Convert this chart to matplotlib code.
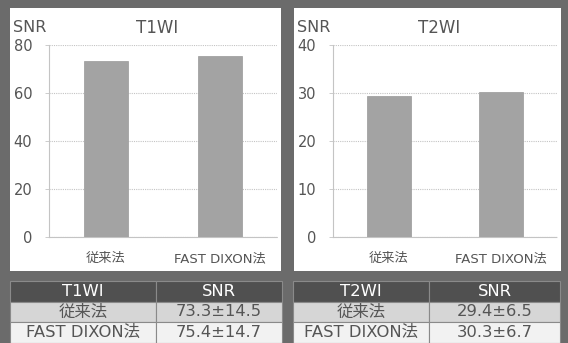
#!/usr/bin/env python3
"""
SNR comparison: conventional vs FAST DIXON (T1WI / T2WI)
"""

import matplotlib
matplotlib.use('Agg')
import matplotlib.pyplot as plt
from matplotlib.patches import Rectangle

plt.rcParams['font.family'] = ['DejaVu Sans', 'Noto Sans CJK JP']

# Data
methods = ['従来法', 'FAST DIXON法']
t1_snr = [73.3, 75.4]
t1_sd = [14.5, 14.7]
t2_snr = [29.4, 30.3]
t2_sd = [6.5, 6.7]
t1_ticks = [0, 20, 40, 60, 80]
t2_ticks = [0, 10, 20, 30, 40]

W, H = 568, 343
BG = '#6b6b6b'
TEXT = '#555555'
BAR = '#a3a3a3'
GRID = '#c4c4c4'


def fig_rect(x0, y0, x1, y1):
    # pixel box (top-left origin) -> figure fraction [left, bottom, width, height]
    return [x0 / W, (H - y1) / H, (x1 - x0) / W, (y1 - y0) / H]


def draw_chart(fig, panel, axbox, title, values, ticks):
    px0, py0, px1, py1 = panel
    fig.patches.append(Rectangle((px0 / W, (H - py1) / H), (px1 - px0) / W, (py1 - py0) / H,
                                 transform=fig.transFigure, facecolor='white',
                                 edgecolor='none', zorder=-5))
    ax = fig.add_axes(fig_rect(*axbox))
    ax.set_facecolor('white')
    ax.bar(range(len(values)), values, width=0.39, color=BAR, edgecolor='#999999',
           linewidth=0.5, zorder=3)
    ax.set_xlim(-0.5, 1.5)
    ax.set_ylim(ticks[0], ticks[-1])
    ax.set_yticks(ticks)
    ax.set_yticklabels([str(t) for t in ticks], fontsize=10.5, color=TEXT)
    ax.set_xticks(range(len(methods)))
    ax.set_xticklabels(methods, fontsize=9.5, color=TEXT)
    ax.tick_params(axis='y', length=3, width=0.6, color=GRID, pad=9)
    ax.tick_params(axis='x', length=0, pad=11)
    ax.yaxis.grid(True, linestyle=(0, (1, 1)), color=GRID, linewidth=0.8, zorder=1)
    ax.set_axisbelow(True)
    for side in ['top', 'right']:
        ax.spines[side].set_visible(False)
    for side in ['left', 'bottom']:
        ax.spines[side].set_linestyle((0, (1, 1)))
        ax.spines[side].set_color(GRID)
        ax.spines[side].set_linewidth(0.8)
    # "SNR" axis caption and panel title sit above the plot area
    fig.text((axbox[0] - 36) / W, (H - 32) / H, 'SNR', fontsize=11.5, color=TEXT,
             ha='left', va='baseline')
    fig.text(((axbox[0] + axbox[2]) / 2 - 6) / W, (H - 33) / H, title, fontsize=12,
             color=TEXT, ha='center', va='baseline')
    return ax


def draw_table(fig, box, split, title, values, sds):
    x0, y0, x1, y1 = box
    rows = [(title, 'SNR')] + [(m, f'{v}±{s}') for m, v, s in zip(methods, values, sds)]
    row_h = (y1 - y0) / 3
    fills = ['#505050', '#d6d6d6', '#f2f2f2']
    colors = ['white', TEXT, TEXT]
    for i, (left, right) in enumerate(rows):
        top = y0 + i * row_h
        for cx0, cx1, txt in [(x0, split, left), (split, x1, right)]:
            fig.patches.append(Rectangle((cx0 / W, (H - top - row_h) / H),
                                         (cx1 - cx0) / W, row_h / H,
                                         transform=fig.transFigure, facecolor=fills[i],
                                         edgecolor='#8a8a8a', linewidth=0.8, zorder=1))
            fig.text((cx0 + cx1) / 2 / W, (H - top - row_h / 2) / H, txt,
                     fontsize=11.8, color=colors[i], ha='center', va='center')


fig = plt.figure(figsize=(W / 100, H / 100), dpi=100)
fig.patch.set_facecolor(BG)

draw_chart(fig, (10, 8, 281, 271), (49, 45, 277, 237), 'T1WI', t1_snr, t1_ticks)
draw_chart(fig, (294, 8, 561, 271), (333, 45, 557, 237), 'T2WI', t2_snr, t2_ticks)

draw_table(fig, (10, 281, 282, 343), 156, 'T1WI', t1_snr, t1_sd)
draw_table(fig, (293, 281, 560, 343), 429, 'T2WI', t2_snr, t2_sd)

fig.savefig('out.png', dpi=100, facecolor=BG)
